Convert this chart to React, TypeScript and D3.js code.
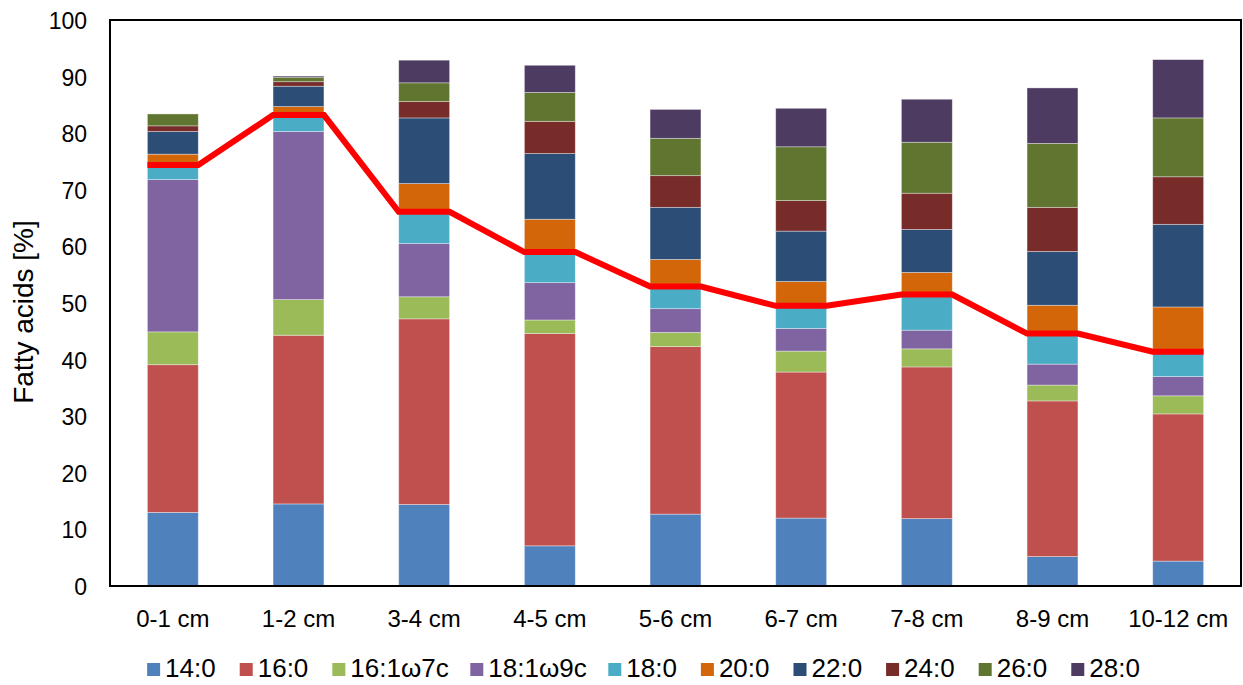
import React from "react";
import * as d3 from "d3";

const categories = ["0-1 cm", "1-2 cm", "3-4 cm", "4-5 cm", "5-6 cm", "6-7 cm", "7-8 cm", "8-9 cm", "10-12 cm"];
const seriesNames = ["14:0", "16:0", "16:1ω7c", "18:1ω9c", "18:0", "20:0", "22:0", "24:0", "26:0", "28:0"];
const colors = ["#4F81BD", "#C0504D", "#9BBB59", "#8064A2", "#4BACC6", "#D4660A", "#2C4D75", "#772C2A", "#5F7530", "#4D3B62"];

const s14_0 = [13.0, 14.5, 14.4, 7.1, 12.7, 12.0, 11.9, 5.2, 4.4];
const s16_0 = [26.1, 29.8, 32.8, 37.5, 29.6, 25.8, 26.8, 27.5, 26.0];
const s16_1 = [5.8, 6.3, 3.9, 2.4, 2.5, 3.7, 3.2, 2.8, 3.2];
const s18_1 = [26.9, 29.7, 9.4, 6.6, 4.2, 4.0, 3.3, 3.7, 3.4];
const s18_0 = [2.6, 2.9, 5.6, 5.4, 3.9, 4.0, 6.3, 5.4, 4.4];
const s20_0 = [1.9, 1.5, 5.0, 5.8, 4.8, 4.3, 3.9, 5.0, 7.9];
const s22_0 = [4.0, 3.6, 11.6, 11.6, 9.2, 8.9, 7.6, 9.5, 14.6];
const s24_0 = [1.0, 0.8, 2.9, 5.7, 5.6, 5.4, 6.4, 7.8, 8.4];
const s26_0 = [2.1, 0.8, 3.3, 5.1, 6.6, 9.5, 9.0, 11.3, 10.4];
const s28_0 = [0.0, 0.2, 4.0, 4.8, 5.1, 6.8, 7.6, 9.8, 10.3];
// red line values (sum of 14:0 .. 18:0)
const lineValues = [74.4, 83.2, 66.1, 59.0, 52.9, 49.5, 51.5, 44.6, 41.4];

const seriesValues = [s14_0, s16_0, s16_1, s18_1, s18_0, s20_0, s22_0, s24_0, s26_0, s28_0];
const yTicks = [0, 10, 20, 30, 40, 50, 60, 70, 80, 90, 100];

const W = 1243, H = 685;
const L = 110, R = 1241, T = 20, B = 586;
const FONT = "'Liberation Sans', Arial, sans-serif";

// approximate Liberation Sans advance widths (em)
const charW = (ch: string) => {
  if (/[0-9]/.test(ch)) return 0.556;
  if (ch === ":") return 0.278;
  if (ch === "ω") return 0.69;
  if (ch === "c") return 0.5;
  return 0.556;
};
const textWidth = (t: string, fs: number) => t.split("").reduce((a, c) => a + charW(c), 0) * fs;

export default function App() {
  const x = d3.scaleBand().domain(categories).range([L, R]).paddingInner(0.595).paddingOuter(0.2975);
  const y = d3.scaleLinear().domain([0, 100]).range([B, T]);

  const rows = categories.map((c, i) => {
    const r: any = { cat: c };
    seriesNames.forEach((s, k) => (r[s] = seriesValues[k][i]));
    return r;
  });
  const stacked = d3.stack().keys(seriesNames)(rows);

  const bw = x.bandwidth();
  const linePts: [number, number][] = [];
  categories.forEach((c, i) => {
    const x0 = x(c)!;
    linePts.push([x0, y(lineValues[i])]);
    linePts.push([x0 + bw, y(lineValues[i])]);
  });
  const lineGen = d3.line();

  // legend layout
  const legendFont = 26;
  const sw = 13, gapSw = 5, gapItem = 24;
  const widths = seriesNames.map((s) => sw + gapSw + textWidth(s, legendFont));
  const total = widths.reduce((a, b) => a + b, 0) + gapItem * (seriesNames.length - 1);
  let lx = 643.5 - total / 2;
  const legendItems = seriesNames.map((s, k) => {
    const pos = lx;
    lx += widths[k] + gapItem;
    return { s, pos, color: colors[k] };
  });

  return (
    <svg width={W} height={H} style={{ position: "absolute", left: 0, top: 0, background: "#fff" }} fontFamily={FONT}>
      <rect x={0} y={0} width={W} height={H} fill="#fff" />
      {stacked.map((layer, k) => (
        <g key={layer.key} fill={colors[k]}>
          {layer.map((d, i) =>
            d[1] - d[0] > 0 ? (
              <rect
                key={i}
                x={x(categories[i])}
                y={y(d[1])}
                width={bw}
                height={y(d[0]) - y(d[1])}
                stroke="#ffffff"
                strokeOpacity={0.45}
                strokeWidth={0.8}
              />
            ) : null
          )}
        </g>
      ))}
      <path d={lineGen(linePts)!} fill="none" stroke="#FF0000" strokeWidth={6} strokeLinejoin="miter" />
      <rect x={L} y={T} width={R - L} height={B - T} fill="none" stroke="#000" strokeWidth={2} />
      {yTicks.map((t) => (
        <text key={t} x={87} y={y(t) + 9} textAnchor="end" fontSize={23} fill="#000">
          {t}
        </text>
      ))}
      <text transform={`translate(33,312) rotate(-90)`} textAnchor="middle" fontSize={28} fill="#000">
        Fatty acids [%]
      </text>
      {categories.map((c) => (
        <text key={c} x={x(c)! + bw / 2} y={627} textAnchor="middle" fontSize={24} fill="#000">
          {c}
        </text>
      ))}
      {legendItems.map((it) => (
        <g key={it.s}>
          <rect x={it.pos} y={663} width={sw} height={13} fill={it.color} />
          <text x={it.pos + sw + gapSw} y={677} fontSize={legendFont} fill="#000">
            {it.s}
          </text>
        </g>
      ))}
    </svg>
  );
}
